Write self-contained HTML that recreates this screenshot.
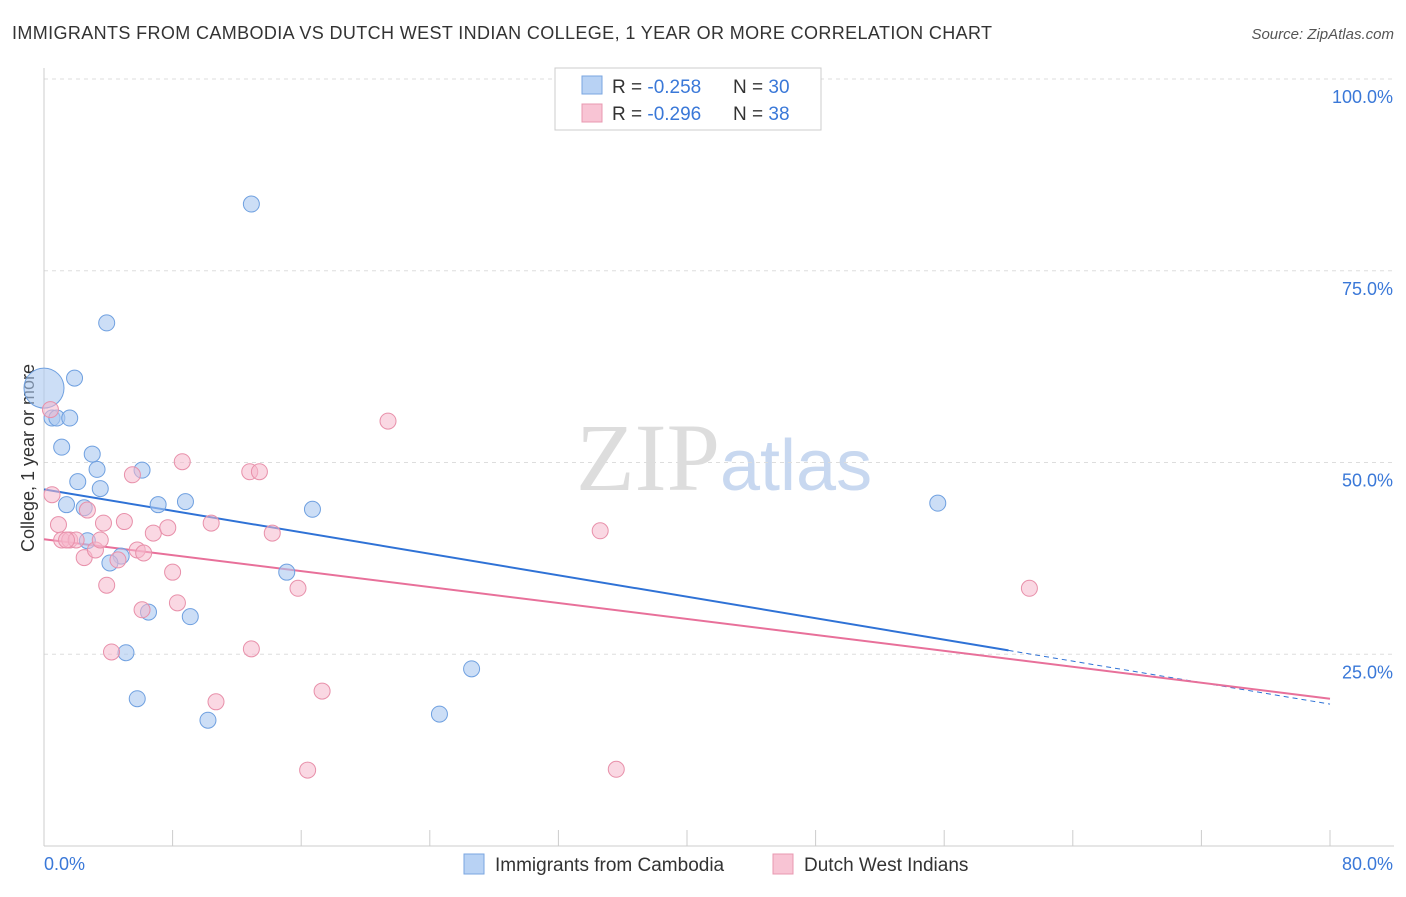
<!DOCTYPE html>
<html><head><meta charset="utf-8"><style>
body{margin:0;background:#fff;font-family:"Liberation Sans",sans-serif;}
</style></head><body>
<svg width="1406" height="892" viewBox="0 0 1406 892" xmlns="http://www.w3.org/2000/svg" id="chart">
<text x="12" y="39" font-size="18" fill="#333" textLength="980" lengthAdjust="spacing">IMMIGRANTS FROM CAMBODIA VS DUTCH WEST INDIAN COLLEGE, 1 YEAR OR MORE CORRELATION CHART</text>
<text x="1394" y="39" font-size="15" fill="#555" font-style="italic" text-anchor="end">Source: ZipAtlas.com</text>
<text x="720" y="490" font-size="96" fill="#ddd" font-family="Liberation Serif,serif" text-anchor="end">ZIP</text>
<text x="720" y="490" font-size="72" fill="#c8d8f0">atlas</text>
<text x="34" y="458" font-size="18" fill="#333" text-anchor="middle" transform="rotate(-90 34 458)">College, 1 year or more</text>
<g id="grid"></g><g id="axes"></g><g id="trend"></g><g id="pts"></g>
<g>
<rect x="555" y="68" width="266" height="62" fill="#fff" stroke="#ccc"/>
<rect x="582" y="76" width="20" height="18" fill="#b8d2f4" stroke="#7aa6e0"/>
<rect x="582" y="104" width="20" height="18" fill="#f8c4d4" stroke="#e898b0"/>
<text x="612" y="93" font-size="19" fill="#333">R = <tspan fill="#3a78d8">-0.258</tspan></text>
<text x="733" y="93" font-size="19" fill="#333">N = <tspan fill="#3a78d8">30</tspan></text>
<text x="612" y="120" font-size="19" fill="#333">R = <tspan fill="#3a78d8">-0.296</tspan></text>
<text x="733" y="120" font-size="19" fill="#333">N = <tspan fill="#3a78d8">38</tspan></text>
</g>
<g>
<rect x="464" y="854" width="20" height="20" fill="#b8d2f4" stroke="#7aa6e0"/>
<text x="495" y="871" font-size="19" fill="#333">Immigrants from Cambodia</text>
<rect x="773" y="854" width="20" height="20" fill="#f8c4d4" stroke="#e898b0"/>
<text x="804" y="871" font-size="19" fill="#333">Dutch West Indians</text>
</g>
</svg>
<script>
const blueX=[0,0.5,0.8,1.6,1.9,1.1,3.0,3.3,2.1,3.5,1.4,2.5,2.7,3.9,12.9,6.1,7.1,8.8,4.8,4.1,6.5,9.1,5.1,5.8,10.2,16.7,15.1,26.6,24.6,55.6];
const blueY=[59.7,55.8,55.8,55.8,61.0,52.0,51.1,49.1,47.5,46.6,44.5,44.1,39.8,68.2,83.7,49.0,44.5,44.9,37.8,36.9,30.5,29.9,25.2,19.2,16.4,43.9,35.7,23.1,17.2,44.7];
const pinkX=[0.4,0.5,0.9,1.1,1.6,2.0,2.5,2.7,3.2,3.5,3.7,3.9,4.2,4.6,5.0,5.5,5.8,6.2,6.1,6.8,7.7,8.0,8.3,8.6,10.4,10.7,12.8,13.4,12.9,14.2,15.8,17.3,16.4,21.4,34.6,35.6,61.3,1.4];
const pinkY=[56.9,45.8,41.9,39.9,39.9,39.9,37.6,43.8,38.6,39.9,42.1,34.0,25.3,37.3,42.3,48.4,38.6,38.2,30.8,40.8,41.5,35.7,31.7,50.1,42.1,18.8,48.8,48.8,25.7,40.8,33.6,20.2,9.9,55.4,41.1,10.0,33.6,39.9];
const yTicks=[100,75,50,25];
const blueTrend=[46.5,18.5];
const pinkTrend=[40.0,19.2];
const NS="http://www.w3.org/2000/svg";
const X=v=>44+v/80*1286, Y=v=>846-v/100*767;
function mk(t,a,p){const e=document.createElementNS(NS,t);for(const k in a)e.setAttribute(k,a[k]);document.getElementById(p).appendChild(e);return e;}
yTicks.forEach(t=>{
 const l=mk('line',{x1:44,x2:1394,y1:Y(t),y2:Y(t),stroke:'#ddd','stroke-dasharray':'4 4'},'grid');
 
 
 const tx=mk('text',{x:1393,y:Y(t)+24,'font-size':18,fill:'#3a78d8','text-anchor':'end'},'grid');tx.textContent=t.toFixed(1)+'%';
 
 
});
const a1=mk('line',{x1:44,x2:44,y1:68,y2:846,stroke:'#ccc'},'axes');


const a2=mk('line',{x1:44,x2:1394,y1:846,y2:846,stroke:'#ccc'},'axes');


for(let i=0;i<=10;i++){const t=mk('line',{x1:X(i*8),x2:X(i*8),y1:830,y2:846,stroke:'#ccc'},'axes');
 
 }
[['0.0%',44,'start'],['80.0%',1393,'end']].forEach(d=>{const t=mk('text',{x:d[1],y:870,'font-size':18,fill:'#3a78d8','text-anchor':d[2]},'axes');t.textContent=d[0];
 
 });
function ty(tr,x){return tr[0]+(tr[1]-tr[0])*x/80;}
let l=mk('line',{x1:X(0),y1:Y(ty(blueTrend,0)),x2:X(60),y2:Y(ty(blueTrend,60)),stroke:'#2f72d6','stroke-width':2},'trend');


l=mk('line',{x1:X(60),y1:Y(ty(blueTrend,60)),x2:X(80),y2:Y(ty(blueTrend,80)),stroke:'#2f72d6','stroke-width':1,'stroke-dasharray':'5 4'},'trend');


l=mk('line',{x1:X(0),y1:Y(ty(pinkTrend,0)),x2:X(80),y2:Y(ty(pinkTrend,80)),stroke:'#e8709a','stroke-width':2},'trend');


blueX.forEach((v,i)=>{const c=mk('circle',{cx:X(v),cy:Y(blueY[i]),r:i===0?20:8,fill:'#aac8f0','fill-opacity':0.6,stroke:'#6fa0e0'},'pts');
 
 });
pinkX.forEach((v,i)=>{const c=mk('circle',{cx:X(v),cy:Y(pinkY[i]),r:8,fill:'#f6b8cc','fill-opacity':0.55,stroke:'#e890aa'},'pts');
 
 });
</script>
</body></html>
